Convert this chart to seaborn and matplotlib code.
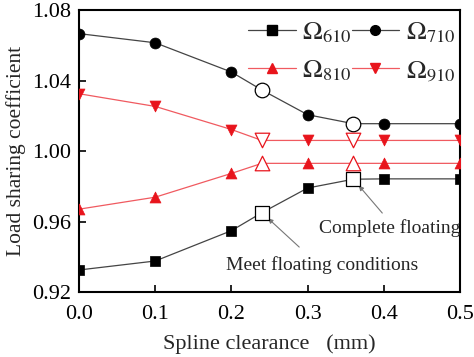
import numpy as np
import pandas as pd
import matplotlib
matplotlib.use("Agg")
import matplotlib.pyplot as plt
import seaborn as sns
from matplotlib.lines import Line2D

# clearance values (mm); 0.24 and 0.36 are the open "floating" markers
clearance = [0.0, 0.1, 0.2, 0.24, 0.3, 0.36, 0.4, 0.5]
is_open = [False, False, False, True, False, True, False, False]

omega_610 = [0.9325, 0.9376, 0.9548, 0.9650, 0.9790, 0.9840, 0.9842, 0.9842]
omega_710 = [1.0666, 1.0614, 1.0448, 1.0346, 1.0206, 1.0155, 1.0155, 1.0155]
omega_810 = [0.9670, 0.9738, 0.9873, 0.9930, 0.9930, 0.9930, 0.9930, 0.9930]
omega_910 = [1.0325, 1.0253, 1.0122, 1.0060, 1.0060, 1.0060, 1.0060, 1.0060]

series = [
    (r"$\Omega_{610}$", omega_610, "black", "#444444", "s"),
    (r"$\Omega_{710}$", omega_710, "black", "#444444", "o"),
    (r"$\Omega_{810}$", omega_810, "#e8141c", "#f05a60", "^"),
    (r"$\Omega_{910}$", omega_910, "#e8141c", "#f05a60", "v"),
]

x_ticks = [0.0, 0.1, 0.2, 0.3, 0.4, 0.5]
y_ticks = [0.92, 0.96, 1.00, 1.04, 1.08]

sns.set_style("ticks")
plt.rcParams["font.family"] = ["Liberation Serif", "DejaVu Serif"]
plt.rcParams["mathtext.fontset"] = "stix"

fig = plt.figure(figsize=(4.74, 3.57), dpi=100)
ax = fig.add_axes([0.1667, 0.182, 0.8038, 0.790])

handles = {}
for label, vals, col, lcol, mk in series:
    df = pd.DataFrame({"x": clearance, "y": vals, "open": is_open})
    sns.lineplot(data=df, x="x", y="y", color=lcol, lw=0.9, ax=ax, zorder=2)
    solid = df[~df["open"]]
    hollow = df[df["open"]]
    sns.scatterplot(data=solid, x="x", y="y", marker=mk, s=62, color=col,
                    edgecolor=col, linewidth=0.5, ax=ax, zorder=3)
    sns.scatterplot(data=hollow, x="x", y="y", marker=mk, s=110, facecolor="white",
                    edgecolor=col, linewidth=0.9, ax=ax, zorder=4)
    handles[label] = Line2D([], [], color=lcol, lw=0.9, marker=mk, markersize=7,
                            markerfacecolor=col, markeredgecolor=col, label=label)

# column-major fill -> rows read 610 710 / 810 910
order = [r"$\Omega_{610}$", r"$\Omega_{810}$", r"$\Omega_{710}$", r"$\Omega_{910}$"]
ax.legend(handles=[handles[k] for k in order], ncol=2, loc="upper right",
          frameon=False, fontsize=19, handlelength=1.8, columnspacing=0.0,
          handletextpad=0.25, labelspacing=0.5, borderaxespad=0.0,
          bbox_to_anchor=(1.015, 1.0))

# annotation arrows and texts
arrow = dict(arrowstyle="-|>", color="#777777", lw=0.8, shrinkA=0, shrinkB=6,
             mutation_scale=7)
ax.annotate("", xy=(0.36, 0.9840), xytext=(0.398, 0.9648), arrowprops=arrow)
ax.annotate("", xy=(0.24, 0.9650), xytext=(0.289, 0.9455), arrowprops=arrow)
ax.text(0.408, 0.9563, "Complete floating", ha="center", va="center", fontsize=14)
ax.text(0.319, 0.9353, "Meet floating conditions", ha="center", va="center", fontsize=14)

ax.set_xlim(0.0, 0.5)
ax.set_ylim(0.92, 1.08)
ax.set_xticks(x_ticks)
ax.set_yticks(y_ticks)
ax.set_xticklabels([f"{v:.1f}" for v in x_ticks])
ax.set_yticklabels([f"{v:.2f}" for v in y_ticks])
ax.tick_params(direction="in", labelsize=16, length=5, width=1.2, colors="black")
ax.tick_params(axis="x", pad=9)
ax.tick_params(axis="y", pad=6)
ax.set_xlabel("Spline clearance   (mm)", fontsize=16, labelpad=8)
ax.set_ylabel("Load sharing coefficient", fontsize=15.5, labelpad=4)
for sp in ax.spines.values():
    sp.set_visible(True)
    sp.set_linewidth(1.5)
    sp.set_color("black")

fig.savefig("out.png", dpi=100)
